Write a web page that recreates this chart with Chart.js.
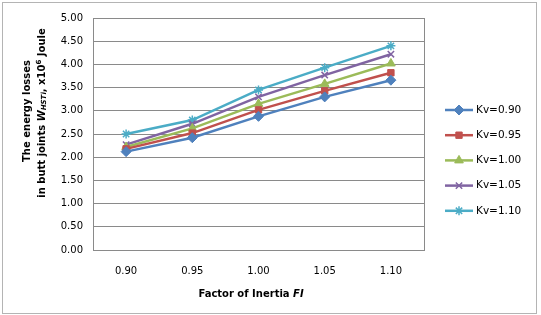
<!DOCTYPE html>
<html>
<head>
<meta charset="utf-8">
<script src="https://cdn.jsdelivr.net/npm/chart.js@4"></script>
<style>
  body { margin: 0; background: #fff; }
  canvas { display: block; }
</style>
</head>
<body>
<canvas id="myChart" width="541" height="315"></canvas>
<script>
// Data
const categories = ['0.90', '0.95', '1.00', '1.05', '1.10'];
const seriesNames = ['Kv=0.90', 'Kv=0.95', 'Kv=1.00', 'Kv=1.05', 'Kv=1.10'];
const kv090 = [2.12, 2.42, 2.88, 3.30, 3.66];
const kv095 = [2.18, 2.52, 3.02, 3.43, 3.82];
const kv100 = [2.22, 2.62, 3.15, 3.58, 4.02];
const kv105 = [2.27, 2.72, 3.30, 3.77, 4.22];
const kv110 = [2.50, 2.80, 3.45, 3.93, 4.40];
const yTicks = [0, 0.5, 1, 1.5, 2, 2.5, 3, 3.5, 4, 4.5, 5];

const colors = ['#4F81BD', '#C0504D', '#9BBB59', '#8064A2', '#4BACC6'];
const markers = ['rectRot', 'rect', 'triangle', 'crossRot', 'star'];
const markerSizes = [5, 4.5, 5, 4.5, 4.5];
const allSeries = [kv090, kv095, kv100, kv105, kv110];

const gridColor = '#8a8a8a';
const FONT = '"DejaVu Sans", Verdana, sans-serif';

const datasets = allSeries.map((values, i) => ({
  label: seriesNames[i],
  data: values,
  borderColor: colors[i],
  backgroundColor: colors[i],
  borderWidth: 2.5,
  pointStyle: markers[i],
  pointRadius: markerSizes[i],
  pointBorderWidth: (i >= 3) ? 1.5 : 1,
  pointBorderColor: colors[i],
  pointBackgroundColor: colors[i],
  tension: 0
}));

// white page, outer frame, plot frame
const framePlugin = {
  id: 'frame',
  beforeDraw(chart) {
    const ctx = chart.ctx;
    ctx.save();
    ctx.fillStyle = '#fff';
    ctx.fillRect(0, 0, chart.width, chart.height);
    ctx.restore();
  },
  afterDraw(chart) {
    const ctx = chart.ctx;
    const a = chart.chartArea;
    ctx.save();
    ctx.strokeStyle = '#b4b4b4';
    ctx.lineWidth = 1;
    ctx.strokeRect(2.5, 2.5, 534, 311);
    ctx.strokeStyle = gridColor;
    ctx.strokeRect(Math.round(a.left) + 0.5, Math.round(a.top) + 0.5,
      Math.round(a.right - a.left), Math.round(a.bottom - a.top));
    ctx.restore();
  }
};

// axis titles with italic / sub / superscript parts
function drawPieces(ctx, pieces, cx, cy) {
  let total = 0;
  pieces.forEach(p => {
    ctx.font = p.font;
    p.w = ctx.measureText(p.text).width;
    total += p.w;
  });
  let x = cx - total / 2;
  pieces.forEach(p => {
    ctx.font = p.font;
    ctx.fillText(p.text, x, cy + (p.dy || 0));
    x += p.w;
  });
}

const titlesPlugin = {
  id: 'titles',
  afterDraw(chart) {
    const ctx = chart.ctx;
    const b = 'bold 10px ' + FONT;
    const bi = 'italic bold 10px ' + FONT;
    const small = 'bold 7px ' + FONT;
    const smallI = 'italic bold 7px ' + FONT;
    ctx.save();
    ctx.fillStyle = '#000';
    ctx.textBaseline = 'middle';
    ctx.textAlign = 'left';
    // x title
    drawPieces(ctx, [
      { text: 'Factor of Inertia ', font: b },
      { text: 'FI', font: bi }
    ], 251, 294);
    // y title, rotated
    ctx.translate(0, 0);
    ctx.rotate(-Math.PI / 2);
    drawPieces(ctx, [{ text: 'The energy losses', font: b }], -111, 27);
    drawPieces(ctx, [
      { text: 'in butt joints ', font: b },
      { text: 'W', font: bi },
      { text: 'HSTi', font: smallI, dy: 2.5 },
      { text: ', x10', font: b },
      { text: '6', font: small, dy: -3 },
      { text: ' Joule', font: b }
    ], -113, 42);
    ctx.restore();
  }
};

// legend on the right: line + marker + text
const legendPlugin = {
  id: 'sideLegend',
  afterDraw(chart) {
    const ctx = chart.ctx;
    ctx.save();
    chart.data.datasets.forEach((ds, i) => {
      const y = 110 + i * 25.2;
      ctx.strokeStyle = ds.borderColor;
      ctx.lineWidth = 2.5;
      ctx.beginPath();
      ctx.moveTo(445, y);
      ctx.lineTo(473, y);
      ctx.stroke();
      ctx.fillStyle = ds.backgroundColor;
      ctx.lineWidth = ds.pointBorderWidth;
      Chart.helpers.drawPoint(ctx, {
        pointStyle: ds.pointStyle,
        radius: ds.pointRadius,
        rotation: 0,
        borderWidth: ds.pointBorderWidth
      }, 459, y);
      ctx.fillStyle = '#000';
      ctx.font = '10.5px ' + FONT;
      ctx.textBaseline = 'middle';
      ctx.textAlign = 'left';
      ctx.fillText(ds.label, 476, y);
    });
    ctx.restore();
  }
};

const config = {
  type: 'line',
  data: { labels: categories, datasets: datasets },
  options: {
    responsive: false,
    animation: false,
    layout: { padding: { top: 18, right: 117, left: 0, bottom: 0 } },
    plugins: {
      legend: { display: false },
      tooltip: { enabled: false }
    },
    scales: {
      x: {
        type: 'category',
        offset: true,
        grid: { display: false, drawTicks: false },
        border: { display: true, color: gridColor },
        ticks: {
          color: '#000',
          font: { family: FONT, size: 10 },
          padding: 15,
          maxRotation: 0
        },
        afterFit(scale) { scale.height = 65; }
      },
      y: {
        min: 0,
        max: 5,
        afterBuildTicks(scale) { scale.ticks = yTicks.map(v => ({ value: v })); },
        grid: { color: gridColor, drawTicks: false },
        border: { display: true, color: gridColor },
        ticks: {
          color: '#000',
          font: { family: FONT, size: 10 },
          padding: 10,
          callback: v => v.toFixed(2)
        },
        afterFit(scale) { scale.width = 93; }
      }
    }
  },
  plugins: [framePlugin, titlesPlugin, legendPlugin]
};

var myChart = new Chart(document.getElementById('myChart'), config);
</script>
</body>
</html>
